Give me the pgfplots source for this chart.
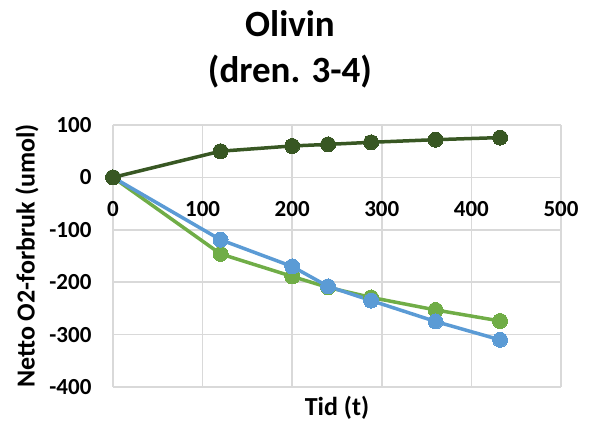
\documentclass[border=0pt]{standalone}
\usepackage{fontspec}
\setmainfont{Carlito}
\usepackage{pgfplots}
\pgfplotsset{compat=1.18}

\definecolor{dkgreen}{HTML}{385723}
\definecolor{ltgreen}{HTML}{70AD47}
\definecolor{ltblue}{HTML}{5B9BD5}
\definecolor{gridgray}{HTML}{D9D9D9}

\begin{document}
\begin{tikzpicture}
	\begin{axis}[
			scale only axis,
			width=448pt,
			height=262pt,
			xmin=0, xmax=500,
			ymin=-400, ymax=100,
			xtick={0,100,...,500},
			ytick={-400,-300,...,100},
			axis x line=middle,
			axis y line=left,
			axis line style={draw=gridgray, line width=1.5pt, -},
			hide obscured x ticks=false,
			hide obscured y ticks=false,
			grid=major,
			major grid style={draw=gridgray, line width=1.5pt},
			major tick length=0pt,
			/pgf/number format/assume math mode=true,
			ticklabel style={font=\bfseries\fontsize{23}{23}\selectfont},
			xticklabel style={anchor=center, yshift=-32pt},
			yticklabel style={anchor=east, xshift=-18pt},
			xlabel={Tid (t)},
			ylabel={Netto O2-forbruk (umol)},
			label style={font=\bfseries\fontsize{26}{26}\selectfont},
			xlabel style={at={(axis description cs:0.5,-0.08)}, anchor=center},
			ylabel style={at={(axis description cs:-0.192,0.5)}, anchor=center, rotate=0},
			title={Olivin\\(dren. 3-4)},
			title style={at={(axis description cs:0.395,1.265)}, anchor=center, align=center,
				font=\bfseries\fontsize{37}{46}\selectfont},
			every axis plot/.append style={line width=3.5pt, mark=*, mark size=7.5pt},
			clip=false,
		]
		\coordinate (O) at (rel axis cs:0,0);
		\addplot[color=ltgreen, mark options={fill=ltgreen, draw=ltgreen, line width=0pt}] coordinates {
			(0,0)
			(120,-146)
			(200,-189)
			(240,-210)
			(288,-229)
			(360,-253)
			(432,-274)
		};
		\addplot[color=ltblue, mark options={fill=ltblue, draw=ltblue, line width=0pt}] coordinates {
			(0,0)
			(120,-119)
			(200,-170)
			(240,-208)
			(288,-235)
			(360,-275)
			(432,-310)
		};
		\addplot[color=dkgreen, mark options={fill=dkgreen, draw=dkgreen, line width=0pt}] coordinates {
			(0,0)
			(120,50)
			(200,60)
			(240,63)
			(288,67)
			(360,72)
			(432,76)
		};
	\end{axis}
	\pgfresetboundingbox
	\path[use as bounding box] ([shift={(-113pt,-36pt)}]O) rectangle ([shift={(479pt,387pt)}]O);
\end{tikzpicture}
\end{document}
